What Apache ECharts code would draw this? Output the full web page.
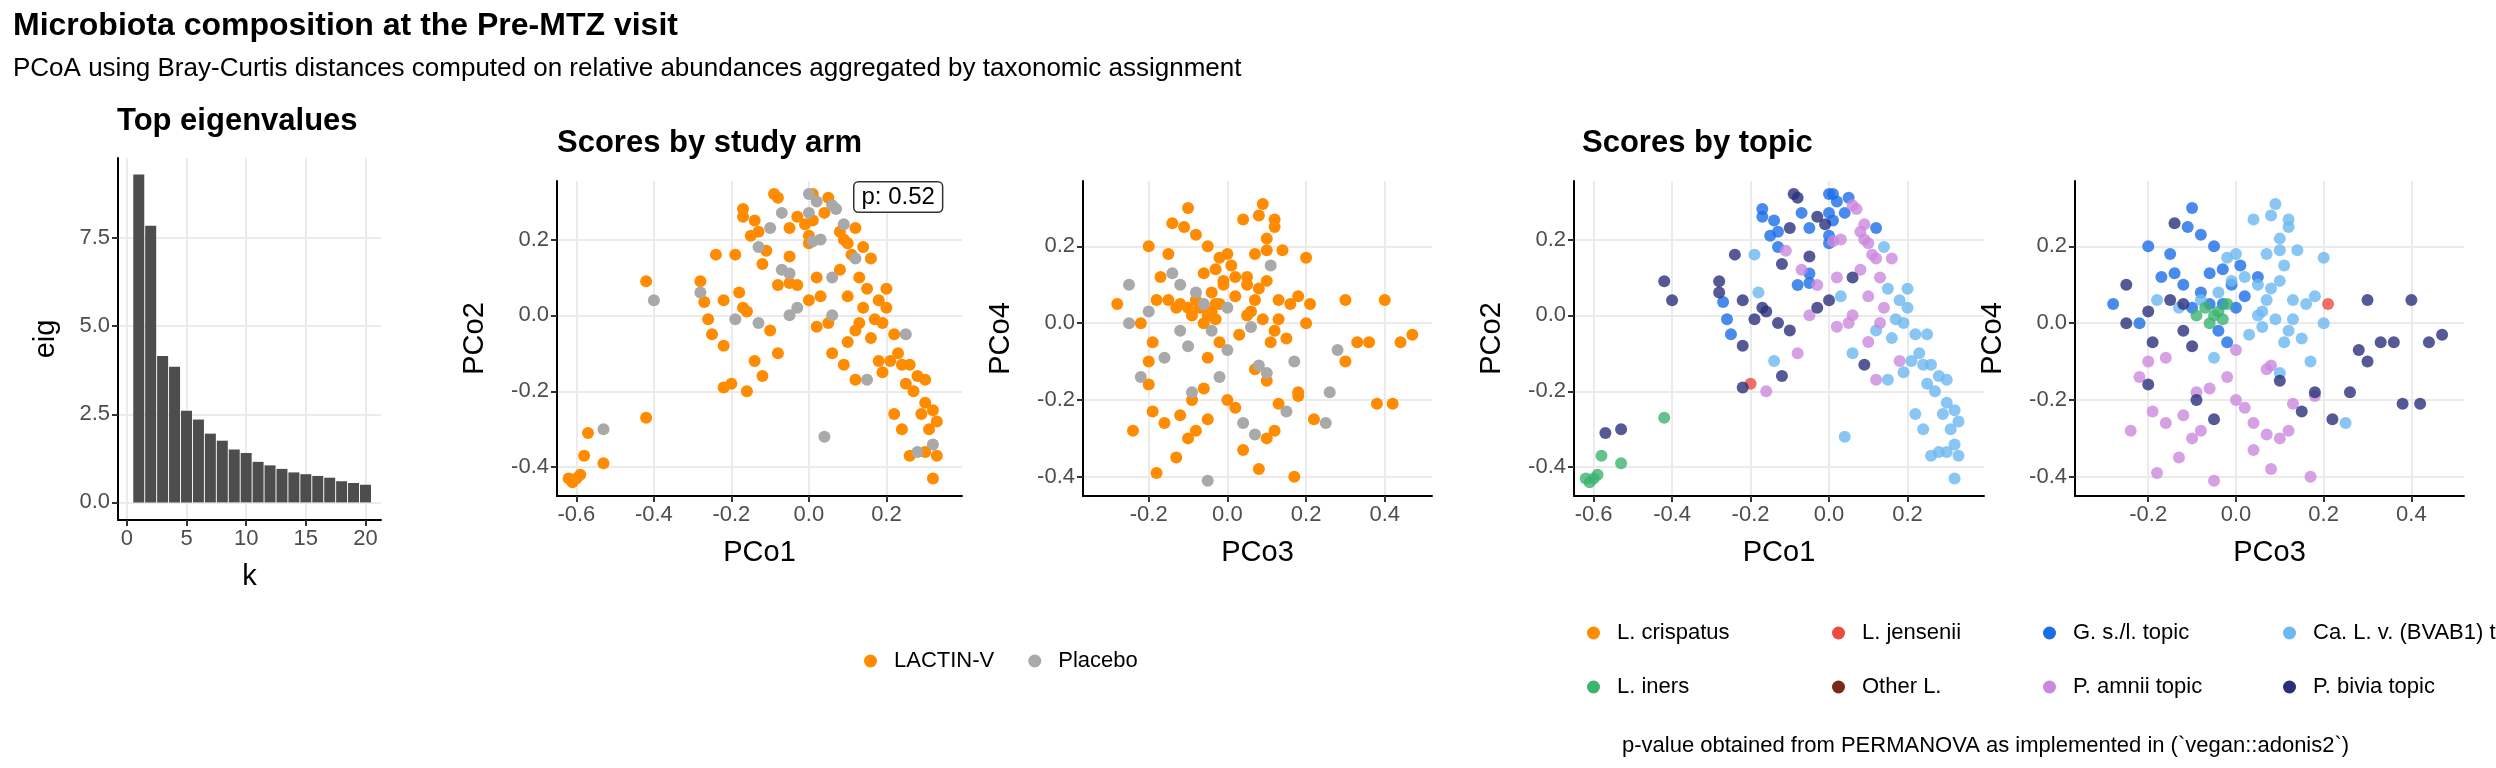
<!DOCTYPE html>
<html>
<head>
<meta charset="utf-8">
<script src="https://cdn.jsdelivr.net/npm/echarts@6/dist/echarts.min.js"></script>
<style>html,body{margin:0;padding:0;background:#fff}#main{width:2496px;height:768px}</style>
</head>
<body>
<div id="main"></div>
<script>
// eigenvalues
const eigK = [1,2,3,4,5,6,7,8,9,10,11,12,13,14,15,16,17,18,19,20];
const eigVal = [9.3,7.85,4.15,3.85,2.6,2.35,1.95,1.75,1.5,1.4,1.15,1.05,0.95,0.85,0.8,0.75,0.7,0.6,0.55,0.5];

// sample scores
const pco1 = [-0.61,-0.60,-0.59,-0.62,-0.58,-0.57,-0.53,-0.53,-0.42,-0.42,-0.40,-0.28,-0.28,-0.27,-0.24,-0.19,
  -0.26,-0.22,-0.18,-0.17,-0.19,-0.16,-0.22,-0.25,-0.20,-0.22,-0.16,-0.14,-0.12,-0.10,-0.13,-0.17,
  -0.17,-0.15,-0.13,-0.14,-0.13,-0.10,-0.11,-0.09,-0.08,-0.07,-0.03,-0.05,-0.12,-0.07,-0.05,-0.05,
  -0.03,-0.08,-0.05,-0.05,-0.03,0.00,0.01,0.02,0.00,0.01,-0.01,0.00,0.00,0.01,0.03,0.04,
  0.05,0.06,0.07,0.09,0.08,0.09,0.10,0.11,0.12,0.12,0.14,0.16,0.13,0.15,0.20,0.14,
  0.10,0.08,0.06,0.02,0.03,0.00,0.02,0.05,0.06,0.12,0.13,0.10,0.16,0.17,0.19,0.20,
  0.22,0.23,0.21,0.19,0.18,0.24,0.25,0.26,0.27,0.28,0.30,0.30,0.32,0.33,0.31,0.29,
  0.32,0.30,0.28,0.26,0.33,0.32,0.24,0.22,0.04,0.12,0.09,0.15,-0.08,0.06,0.18,0.25];
const pco2 = [-0.44,-0.43,-0.42,-0.43,-0.37,-0.31,-0.39,-0.30,-0.27,0.09,0.04,0.09,0.06,0.035,0.16,0.16,
  -0.01,0.04,0.06,0.02,-0.01,0.01,-0.08,-0.05,-0.18,-0.19,-0.20,-0.12,-0.16,-0.04,-0.02,0.26,
  0.28,0.21,0.22,0.25,0.18,0.23,0.17,0.32,0.31,0.27,0.26,0.23,0.135,0.12,0.11,0.155,
  0.08,0.08,0.085,0.00,0.02,0.32,0.32,0.30,0.27,0.25,0.24,0.21,0.19,0.195,0.20,0.27,
  0.31,0.29,0.28,0.24,0.22,0.20,0.19,0.16,0.23,0.15,0.18,0.15,0.10,0.07,0.07,0.02,
  0.05,0.12,0.10,0.10,0.05,0.04,-0.03,-0.02,0.00,-0.04,-0.02,-0.07,-0.06,-0.01,-0.02,0.02,
  -0.05,-0.10,-0.12,-0.15,-0.12,-0.13,-0.18,-0.13,-0.20,-0.16,-0.17,-0.23,-0.25,-0.28,-0.30,-0.26,
  -0.34,-0.36,-0.36,-0.37,-0.37,-0.43,-0.30,-0.26,-0.32,-0.17,-0.13,-0.17,-0.10,-0.10,0.04,-0.05];
const pco3 = [-0.05,-0.06,-0.04,-0.07,-0.03,-0.12,-0.02,0.28,-0.09,0.40,-0.25,0.47,-0.20,-0.17,0.36,0.08,
  -0.22,0.30,0.12,-0.15,-0.12,0.38,-0.05,-0.28,0.21,0.44,-0.18,0.13,-0.09,0.33,-0.10,-0.20,
  -0.10,-0.15,-0.08,-0.11,-0.12,-0.25,-0.13,-0.14,0.42,-0.14,0.22,-0.05,0.10,-0.05,-0.08,-0.20,
  0.02,-0.06,-0.03,0.07,0.15,-0.06,-0.01,-0.04,0.00,0.05,0.18,-0.02,0.01,-0.02,0.08,0.02,
  -0.03,-0.22,-0.09,0.04,0.12,-0.08,-0.20,0.00,-0.10,-0.16,0.10,0.08,0.18,0.09,0.12,-0.24,
  0.13,0.04,0.26,-0.06,0.10,-0.19,0.07,-0.10,0.00,0.07,0.17,-0.19,0.10,0.16,0.02,0.14,
  0.05,0.20,-0.01,-0.04,0.10,0.15,0.09,0.20,0.06,-0.13,0.03,-0.18,0.11,0.04,-0.05,0.13,
  0.17,-0.02,0.06,0.18,0.08,-0.08,0.00,0.12,0.10,-0.16,0.30,0.11,-0.12,0.07,0.05,0.25];
const pco4 = [0.02,0.00,0.03,0.04,0.01,0.05,0.05,-0.07,0.02,0.06,0.00,-0.03,0.03,0.12,-0.05,0.28,
  0.00,-0.10,0.25,0.06,-0.02,-0.21,-0.25,0.05,0.05,-0.05,-0.39,0.06,-0.20,-0.05,-0.06,0.20,
  0.30,0.18,0.23,0.25,0.10,0.10,-0.35,0.26,-0.21,0.13,-0.25,0.20,-0.15,-0.41,0.08,-0.16,
  -0.22,0.13,0.05,-0.29,-0.23,0.05,0.10,-0.02,0.04,0.12,-0.18,-0.05,0.15,-0.14,-0.11,0.07,
  0.14,-0.14,-0.18,-0.26,-0.28,-0.28,-0.10,-0.20,0.04,-0.09,0.19,-0.38,-0.19,0.31,0.27,-0.28,
  -0.21,-0.33,-0.18,-0.17,0.22,-0.05,-0.12,-0.30,-0.07,0.18,-0.40,-0.23,0.11,0.05,0.12,0.19,
  0.02,0.00,0.11,0.08,-0.30,-0.04,0.01,0.17,0.03,0.04,-0.03,0.06,-0.05,0.27,-0.09,0.01,
  -0.10,0.17,-0.01,0.07,0.09,0.06,0.18,-0.02,-0.13,-0.26,0.06,0.15,-0.24,0.06,0.10,-0.26];
// 0 = LACTIN-V, 1 = Placebo
const arm = [0,0,0,0,0,0,0,1,0,0,1,0,1,0,0,0, 0,0,0,0,1,0,0,0,0,0,0,0,0,0,1,0,
  0,0,0,0,1,1,0,0,0,1,0,0,0,1,1,0, 0,0,0,1,1,1,0,1,1,0,0,0,0,1,1,0,
  0,1,1,1,0,0,0,0,0,1,0,0,0,0,0,0, 0,0,1,0,0,0,0,0,1,0,0,0,0,0,0,0,
  0,0,0,0,0,0,0,0,0,0,0,0,0,0,0,0, 1,0,1,0,0,0,0,0,1,0,0,1,0,0,0,1];
// topic index into topicNames
const topic = [4,4,4,4,4,7,4,7,4,7,7,7,7,2,7,3, 2,7,3,7,7,7,7,2,1,7,6,3,7,7,7,2,
  2,2,2,2,2,7,6,7,7,2,7,2,7,6,2,7, 6,2,2,6,7,2,2,2,2,2,7,2,2,6,6,2,
  2,6,6,6,6,6,6,6,2,6,3,6,6,3,3,6, 6,6,7,6,3,7,6,6,6,3,6,6,3,3,3,3,
  3,3,3,3,6,3,3,3,3,3,3,3,3,3,3,3, 3,3,3,3,3,3,3,3,3,6,7,3,6,3,3,3];
const armNames = ['LACTIN-V', 'Placebo'];
const armColors = ['#FF8C00', '#A9A9A9'];
const topicNames = ['L. crispatus', 'L. jensenii', 'G. s./l. topic', 'Ca. L. v. (BVAB1) topic',
  'L. iners', 'Other L.', 'P. amnii topic', 'P. bivia topic'];
const topicColors = ['#FF8C00', '#EE4B3E', '#1C6EE8', '#6CB8F0', '#3CB371', '#7A2A1A', '#CC88DD', '#2B2F7A'];
const tickPC12x = [-0.6,-0.4,-0.2,0.0,0.2];
const tickPC12y = [-0.4,-0.2,0.0,0.2];
const tickPC34x = [-0.2,0.0,0.2,0.4];
const tickPC34y = [-0.4,-0.2,0.0,0.2];
const eigTicksX = [0,5,10,15,20];
const eigTicksY = [0,2.5,5,7.5];

const FONT = 'Liberation Sans, Arial, sans-serif';
let myChart = echarts.init(document.getElementById('main'));

function fmt(v) { return Math.abs(v) < 1e-9 ? '0.0' : v.toFixed(1); }

function axis(gi, min, max, ticks, name, gap, isY, labFmt) {
    return {
        type: 'value', gridIndex: gi, min: min, max: max,
        name: name, nameLocation: 'middle', nameGap: gap,
        nameTextStyle: {fontFamily: FONT, fontSize: 29, color: '#000'},
        axisLine: {show: true, onZero: false, lineStyle: {color: '#000', width: 2}},
        axisTick: {show: true, length: 6, customValues: ticks, lineStyle: {color: '#333', width: 2}},
        axisLabel: {customValues: ticks, formatter: labFmt || fmt, fontFamily: FONT, fontSize: 22, color: '#4d4d4d', margin: 8},
        splitLine: {show: true, lineStyle: {color: '#ebebeb', width: 2}}
    };
}

let grids = [
    {left: 118, width: 263, top: 158, height: 362},
    {left: 557, width: 405, top: 181, height: 315},
    {left: 1083, width: 349, top: 181, height: 315},
    {left: 1574, width: 410, top: 181, height: 315},
    {left: 2075, width: 389, top: 181, height: 315}
];
let xAxes = [
    axis(0, -0.74, 21.3, eigTicksX, 'k', 42, false, v => String(v)),
    axis(1, -0.65, 0.395, tickPC12x, 'PCo1', 42),
    axis(2, -0.367, 0.52, tickPC34x, 'PCo3', 42),
    axis(3, -0.65, 0.395, tickPC12x, 'PCo1', 42),
    axis(4, -0.367, 0.52, tickPC34x, 'PCo3', 42)
];
let yAxes = [
    axis(0, -0.5, 9.77, eigTicksY, 'eig', 58, true, v => v.toFixed(1)),
    axis(1, -0.476, 0.354, tickPC12y, 'PCo2', 68, true),
    axis(2, -0.45, 0.37, tickPC34y, 'PCo4', 68, true),
    axis(3, -0.476, 0.354, tickPC12y, 'PCo2', 68, true),
    axis(4, -0.45, 0.37, tickPC34y, 'PCo4', 68, true)
];

let series = [{
    type: 'bar', xAxisIndex: 0, yAxisIndex: 0, barWidth: 11,
    itemStyle: {color: '#4d4d4d'},
    data: eigK.map((k, i) => [k, eigVal[i]])
}];

armNames.forEach((nm, a) => {
    let idx = pco1.map((_, i) => i).filter(i => arm[i] === a);
    series.push({name: nm, type: 'scatter', xAxisIndex: 1, yAxisIndex: 1, symbolSize: 12,
        itemStyle: {color: armColors[a], opacity: 1}, data: idx.map(i => [pco1[i], pco2[i]])});
    series.push({name: nm, type: 'scatter', xAxisIndex: 2, yAxisIndex: 2, symbolSize: 12,
        itemStyle: {color: armColors[a], opacity: 1}, data: idx.map(i => [pco3[i], pco4[i]])});
});
topicNames.forEach((nm, t) => {
    let idx = pco1.map((_, i) => i).filter(i => topic[i] === t);
    series.push({name: nm, type: 'scatter', xAxisIndex: 3, yAxisIndex: 3, symbolSize: 12,
        itemStyle: {color: topicColors[t], opacity: 0.8}, data: idx.map(i => [pco1[i], pco2[i]])});
    series.push({name: nm, type: 'scatter', xAxisIndex: 4, yAxisIndex: 4, symbolSize: 12,
        itemStyle: {color: topicColors[t], opacity: 0.8}, data: idx.map(i => [pco3[i], pco4[i]])});
});

function legend(names, left, top, gap) {
    return {data: names.map(n => ({name: n, icon: 'circle', itemStyle: {opacity: 1}})), left: left, top: top, itemGap: gap,
        itemWidth: 13, itemHeight: 13, textStyle: {fontFamily: FONT, fontSize: 22, color: '#000', padding: [0, 0, 0, 12]},
        selectedMode: false};
}

const topicLegendLeft = [1582, 1827, 2038, 2278];
let legends = [legend(armNames, 859, 645, 34)];
topicNames.forEach((nm, t) => {
    legends.push(legend([nm], topicLegendLeft[t % 4], t < 4 ? 617 : 671, 0));
});

let option = {
    animation: false,
    backgroundColor: '#fff',
    grid: grids,
    xAxis: xAxes,
    yAxis: yAxes,
    series: series,
    legend: legends,
    graphic: [
        {type: 'text', left: 13, top: 10, style: {text: 'Microbiota composition at the Pre-MTZ visit', font: 'bold 32px ' + FONT, fill: '#000'}},
        {type: 'text', left: 13, top: 56, style: {text: 'PCoA using Bray-Curtis distances computed on relative abundances aggregated by taxonomic assignment', font: '26px ' + FONT, fill: '#000'}},
        {type: 'text', left: 117, top: 106, style: {text: 'Top eigenvalues', font: 'bold 31px ' + FONT, fill: '#000'}},
        {type: 'text', left: 557, top: 128, style: {text: 'Scores by study arm', font: 'bold 31px ' + FONT, fill: '#000'}},
        {type: 'text', left: 1582, top: 128, style: {text: 'Scores by topic', font: 'bold 31px ' + FONT, fill: '#000'}},
        {type: 'text', left: 853, top: 181, z: 10, style: {text: 'p: 0.52', font: '24px ' + FONT, fill: '#000',
            backgroundColor: '#fff', borderColor: '#333', borderWidth: 1.5, borderRadius: 4, padding: [3, 7, 2, 7]}},
        {type: 'text', left: 1622, top: 735, style: {text: 'p-value obtained from PERMANOVA as implemented in (`vegan::adonis2`)', font: '22px ' + FONT, fill: '#000'}}
    ]
};
myChart.setOption(option);
</script>
</body>
</html>
